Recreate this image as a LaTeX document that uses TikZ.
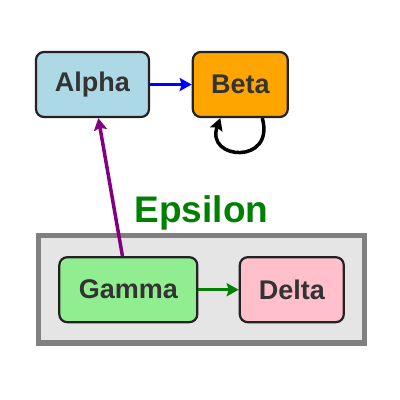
\documentclass[tikz,border=0pt]{standalone}
\usepackage{fontspec}
\setmainfont{Liberation Sans}
\usetikzlibrary{arrows.meta}
\definecolor{txt}{HTML}{333333}
\definecolor{cBorder}{HTML}{222222}
\definecolor{cAlpha}{HTML}{ADD8E6}
\definecolor{cBeta}{HTML}{FFA500}
\definecolor{cGamma}{HTML}{90EE90}
\definecolor{cDelta}{HTML}{FFC0CB}
\definecolor{cGreen}{HTML}{008000}
\definecolor{cPurple}{HTML}{800080}
\definecolor{cBlue}{HTML}{0000FF}
\definecolor{cBoxFill}{HTML}{E5E5E5}
\definecolor{cBoxDraw}{HTML}{808080}
\begin{document}
\begin{tikzpicture}[x=1pt,y=-1pt,
  nodebox/.style={draw=cBorder, line width=2.2pt, rounded corners=8pt, inner sep=0pt,
    minimum height=65pt, font=\fontsize{27}{30}\selectfont\bfseries, text=txt},
  arr/.style={line width=3.5pt, -{Stealth[length=12pt,width=13pt,inset=2pt]}},
  grp/.style={draw=cBoxDraw, fill=cBoxFill, line width=5.5pt}]
\useasboundingbox (0,0) rectangle (400,400);
\draw[grp] (38.7,235.5) rectangle (364.7,343);
\node[anchor=base, text=cGreen, font=\fontsize{37}{40}\selectfont\bfseries] (eps) at (201.5,222) {Epsilon};
\node[nodebox, fill=cAlpha, minimum width=113pt] (Alpha) at (92.5,84.5) {Alpha};
\node[nodebox, fill=cBeta, minimum width=95pt] (Beta) at (240.3,84.5) {Beta};
\node[nodebox, fill=cGamma, minimum width=138pt] (Gamma) at (128.3,289.7) {Gamma};
\node[nodebox, fill=cDelta, minimum width=104pt] (Delta) at (291.8,289.7) {Delta};
\draw[arr, cBlue] (Alpha) -- (Beta);
\draw[arr, cGreen] (Gamma) -- (Delta);
\draw[arr, cPurple] (Gamma) -- (Alpha);
\draw[arr, black] ([xshift=22pt]Beta.south) .. controls +(13,47) and +(-15,42) .. ([xshift=-20pt]Beta.south);
\end{tikzpicture}
\end{document}
